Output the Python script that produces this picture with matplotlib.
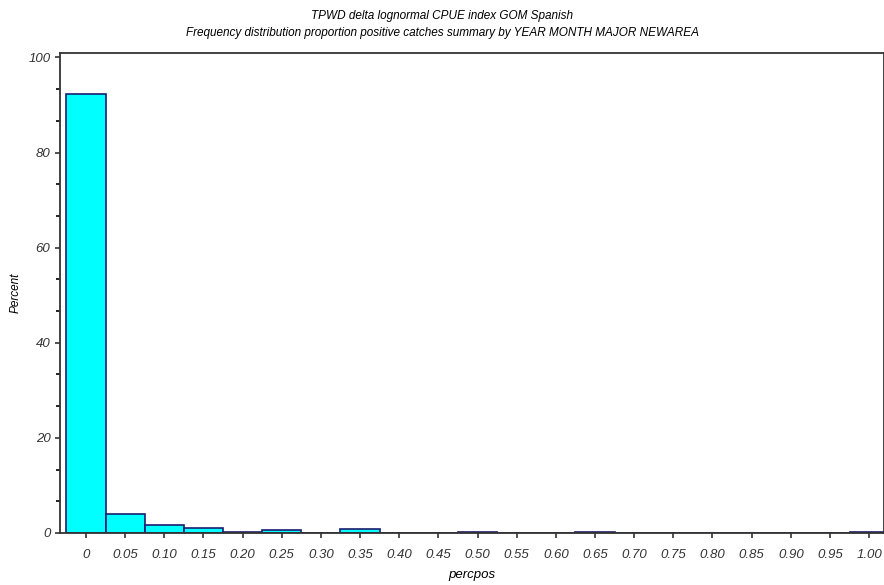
import matplotlib
matplotlib.use('Agg')
import matplotlib.pyplot as plt
from matplotlib.ticker import MultipleLocator, AutoMinorLocator

plt.rcParams['font.family'] = ['Liberation Sans Narrow', 'Liberation Sans', 'DejaVu Sans']
plt.rcParams['font.style'] = 'italic'

bins = [0.00, 0.05, 0.10, 0.15, 0.20, 0.25, 0.30, 0.35, 0.40, 0.45, 0.50,
        0.55, 0.60, 0.65, 0.70, 0.75, 0.80, 0.85, 0.90, 0.95, 1.00]
percent = [92.2, 4.0, 1.7, 1.1, 0.2, 0.6, 0.0, 0.8, 0.0, 0.0, 0.2,
           0.0, 0.0, 0.2, 0.0, 0.0, 0.0, 0.0, 0.0, 0.0, 0.2]
tick_labels = ['0', '0.05', '0.10', '0.15', '0.20', '0.25', '0.30', '0.35', '0.40',
               '0.45', '0.50', '0.55', '0.60', '0.65', '0.70', '0.75', '0.80',
               '0.85', '0.90', '0.95', '1.00']

fig = plt.figure(figsize=(8.84, 5.85), dpi=100)
ax = fig.add_axes([0.068, 0.089, 0.932, 0.821])

ax.bar(bins, percent, width=0.05, color='#00ffff', edgecolor='#1c1c70', linewidth=1.2)

ax.set_xlim(-0.033, 1.019)
ax.set_ylim(0, 101)
ax.set_xticks(bins)
ax.set_xticklabels(tick_labels)
ax.yaxis.set_major_locator(MultipleLocator(20))
ax.yaxis.set_minor_locator(AutoMinorLocator(3))
ax.tick_params(axis='both', labelsize=9.5, colors='#333333', direction='out', width=1.2)
ax.tick_params(axis='x', pad=8)
ax.tick_params(which='minor', length=3, width=1.2)
for s in ax.spines.values():
    s.set_color('#333333')
    s.set_linewidth(1.3)

ax.set_xlabel('percpos', fontsize=9.5, labelpad=6)
ax.set_ylabel('Percent', fontsize=8.5)
ax.yaxis.set_label_coords(-0.047, 0.5)

fig.text(0.5, 0.968, 'TPWD delta lognormal CPUE index GOM Spanish', ha='center', fontsize=8.5)
fig.text(0.5, 0.938, 'Frequency distribution proportion positive catches summary by YEAR MONTH MAJOR NEWAREA',
         ha='center', fontsize=8.5)

fig.savefig('out.png', dpi=100)
